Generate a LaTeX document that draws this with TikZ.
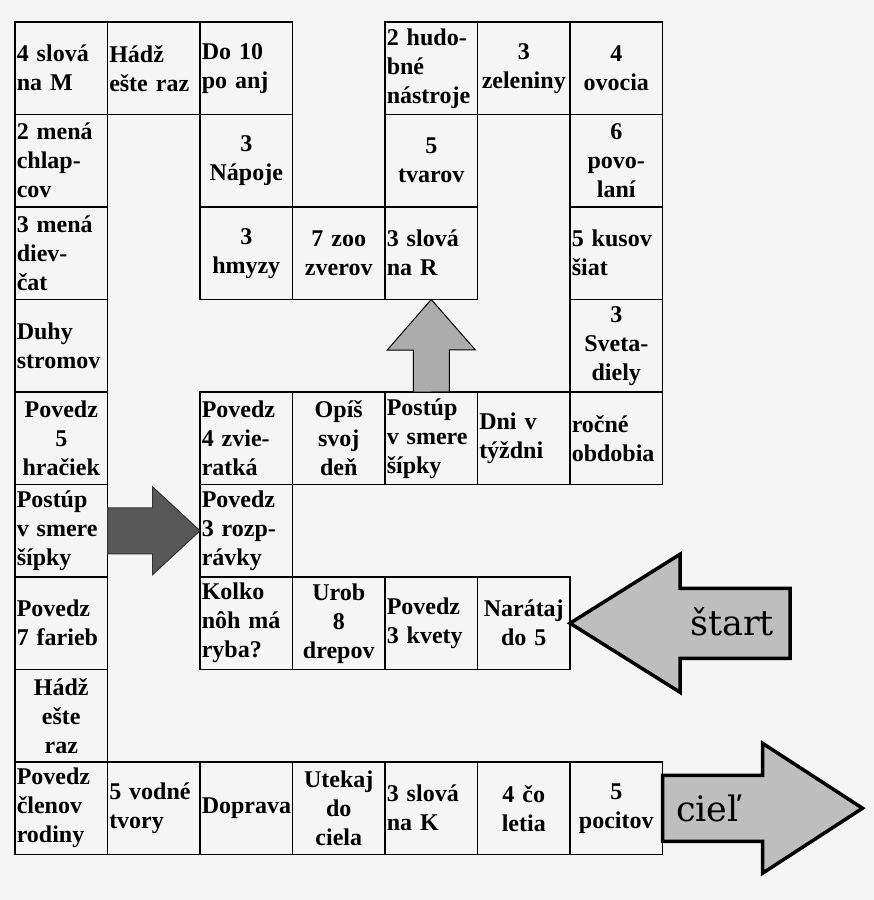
\documentclass[tikz,border=0pt]{standalone}
\usepackage{fontspec}
\setmainfont{Liberation Serif}
\newfontfamily\goalfont{DejaVu Serif}
\usetikzlibrary{calc}
\definecolor{paper}{RGB}{245,245,245}
\definecolor{arrowgray}{RGB}{190,190,190}
\definecolor{upgray}{RGB}{172,172,172}
\definecolor{darkgray}{RGB}{88,88,88}

\begin{document}
\begin{tikzpicture}[x=1pt,y=-1pt,cell/.style={draw,line width=1.5pt,minimum width=92.5pt,minimum height=92.5pt,text width=89pt,inner sep=0pt,outer sep=0pt,align=left,font=\fontsize{24}{29}\selectfont\bfseries},ccell/.style={cell,align=center},bigarr/.style={draw,line width=3.5pt,fill=arrowgray,line join=miter},uparr/.style={draw,line width=1pt,fill=upgray},darkarr/.style={draw=black!80,line width=1pt,fill=darkgray},goal/.style={font=\fontsize{35}{35}\selectfont\goalfont}]
\fill[paper](0,0) rectangle (874,900);
% top row and left column
\node[cell](slovaM) at (61.25,68.25){4 slová\\na M};
\node[cell](hadz) at (153.75,68.25){Hádž\\ešte raz};
\node[cell](do10) at (246.25,68.25){Do 10\\po anj};
\node[cell](chlapci) at (61.25,160.75){2 mená\\chlap-\\cov};
\node[cell](dievcata) at (61.25,253.25){3 mená\\diev-\\čat};
\node[cell](duhy) at (61.25,345.75){Duhy\\stromov};
\node[ccell](hracky) at (61.25,438.25){Povedz\\5\\hračiek};
\node[cell](sipka2) at (61.25,530.75){Postúp\\v smere\\šípky};
\node[cell](farby) at (61.25,623.25){Povedz\\7 farieb};
\node[ccell](hadz2) at (61.25,715.75){Hádž\\ešte\\raz};
\node[cell](rodina) at (61.25,808.25){Povedz\\členov\\rodiny};
% upper loop
\node[ccell](napoje) at (246.25,160.75){3\\Nápoje};
\node[ccell](hmyzy) at (246.25,253.25){3\\hmyzy};
\node[ccell](zoo) at (338.75,253.25){7 zoo\\zverov};
\node[cell](slovaR) at (431.25,253.25){3 slová\\na R};
\node[ccell](tvary) at (431.25,160.75){5\\tvarov};
\node[cell](nastroje) at (431.25,68.25){2 hudo-\\bné\\nástroje};
\node[ccell](zelenina) at (523.75,68.25){3\\zeleniny};
\node[ccell](ovocie) at (616.25,68.25){4\\ovocia};
\node[ccell](povolania) at (616.25,160.75){6\\povo-\\laní};
\node[cell](siaty) at (616.25,253.25){5 kusov\\šiat};
\node[ccell](svetadiely) at (616.25,345.75){3\\Sveta-\\diely};
\node[cell](obdobia) at (616.25,438.25){ročné\\obdobia};
% middle rows
\node[cell](dni) at (523.75,438.25){Dni v\\týždni};
\node[cell](sipka) at (431.25,438.25){Postúp\\v smere\\šípky};
\node[ccell](den) at (338.75,438.25){Opíš\\svoj\\deň};
\node[cell](zvierata) at (246.25,438.25){Povedz\\4 zvie-\\ratká};
\node[cell](rozpravky) at (246.25,530.75){Povedz\\3 rozp-\\rávky};
\node[cell](ryba) at (246.25,623.25){Kolko\\nôh má\\ryba?};
\node[ccell](drepy) at (338.75,623.25){Urob\\8\\drepov};
\node[cell](kvety) at (431.25,623.25){Povedz\\3 kvety};
\node[ccell](pocty) at (523.75,623.25){Narátaj\\do 5};
% bottom row
\node[cell](vodne) at (153.75,808.25){5 vodné\\tvory};
\node[ccell](doprava) at (246.25,808.25){Doprava};
\node[ccell](utekaj) at (338.75,808.25){Utekaj\\do\\ciela};
\node[cell](slovaK) at (431.25,808.25){3 slová\\na K};
\node[ccell](letia) at (523.75,808.25){4 čo\\letia};
\node[ccell](pocity) at (616.25,808.25){5\\pocitov};
% arrows
\draw[bigarr](pocty.east)--++(110,-69)--++(0,34)--++(110,0)--++(0,70)--++(-110,0)--++(0,34)--cycle;
\node[goal](start) at ($(pocty.east)+(162,-2)$){štart};
\draw[bigarr](pocity.east)--++(0,-33)--++(100,0)--++(0,-32)--++(100,65)--++(-100,65)--++(0,-32)--++(-100,0)--cycle;
\node[goal](ciel) at ($(pocity.east)+(45,0)$){cieľ};
\draw[darkarr](sipka2.east)--++(0,-23)--++(45,0)--++(0,-21)--(rozpravky.west)--++(-47.5,44)--++(0,-21)--++(-45,0)--cycle;
\draw[uparr](sipka.north)--++(-18,0)--++(0,-42)--++(-26,0)--(slovaR.south)--++(44,50.25)--++(-26,0)--++(0,42)--cycle;
\end{tikzpicture}
\end{document}
